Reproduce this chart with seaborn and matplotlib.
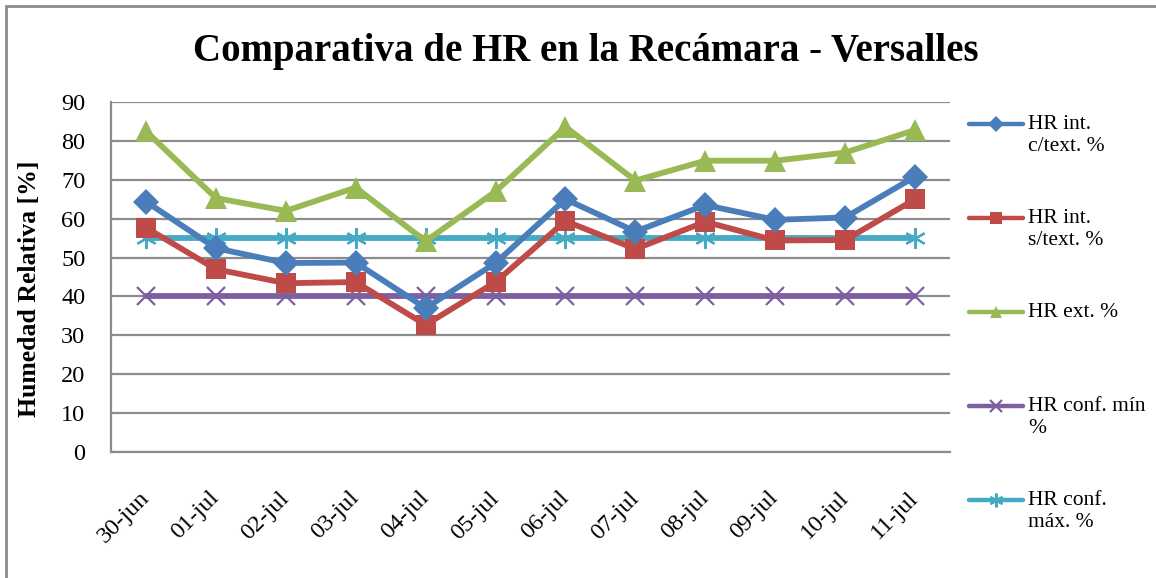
import matplotlib
matplotlib.use("Agg")
import matplotlib.pyplot as plt
import matplotlib.patches as mpatches
from matplotlib.lines import Line2D
from matplotlib.legend import Legend
from matplotlib.offsetbox import HPacker
import numpy as np
import pandas as pd
import seaborn as sns

fechas = ["30-jun", "01-jul", "02-jul", "03-jul", "04-jul", "05-jul",
          "06-jul", "07-jul", "08-jul", "09-jul", "10-jul", "11-jul"]
hr_int_con = [64.4, 52.4, 48.6, 48.7, 37.0, 48.6, 65.0, 56.7, 63.5, 59.7, 60.3, 70.8]
hr_int_sin = [57.7, 47.0, 43.4, 43.7, 32.7, 43.7, 59.4, 52.2, 59.2, 54.4, 54.5, 65.0]
hr_ext = [82.5, 65.3, 62.0, 68.0, 54.2, 67.0, 83.6, 69.8, 74.9, 74.9, 77.0, 82.8]
hr_conf_min = [40] * 12
hr_conf_max = [55] * 12

series = ["HR int.\nc/text. %", "HR int.\ns/text. %", "HR ext. %",
          "HR conf. mín\n%", "HR conf.\nmáx. %"]
valores = [hr_int_con, hr_int_sin, hr_ext, hr_conf_min, hr_conf_max]
colores = ["#4A7EBB", "#BE4B48", "#98B954", "#7D60A0", "#46AAC5"]
marcadores = ["D", "s", "^", "x", (6, 2, 0)]
tam_marcador = [13, 14, 16, 13, 15]
tam_leyenda = [8, 9, 9, 9, 10]

df = pd.DataFrame({
    "pos": np.tile(np.arange(len(fechas)), len(series)),
    "valor": np.concatenate(valores),
    "serie": np.repeat(series, len(fechas)),
})

sns.set_theme(style="white")
plt.rcParams["font.family"] = ["Liberation Serif", "DejaVu Serif"]
for k in ("text.color", "axes.labelcolor", "xtick.color", "ytick.color"):
    plt.rcParams[k] = "black"

W, H = 1156, 578
fig = plt.figure(figsize=(W / 100, H / 100), dpi=100)
ax = fig.add_axes([111 / W, 1 - 452 / H, (950 - 111) / W, (452 - 102) / H])

# Chart-area frame
fig.patches.append(mpatches.Rectangle((6 / W, -0.05), 1.2, (H - 6) / H + 0.05,
                                      transform=fig.transFigure, fill=False,
                                      edgecolor="#8C8C8C", linewidth=2.0, zorder=0))


def estilo_marcador(i):
    mk = marcadores[i]
    if mk == "x" or isinstance(mk, tuple):
        return dict(markeredgecolor=colores[i], markeredgewidth=1.6)
    return dict(markeredgewidth=0)


# Draw in reverse so the first series sits on top
for i in reversed(range(len(series))):
    sub = df[df["serie"] == series[i]]
    sns.lineplot(data=sub, x="pos", y="valor", ax=ax, color=colores[i],
                 linewidth=4.2, marker=marcadores[i], markersize=tam_marcador[i],
                 legend=False, zorder=3 + (len(series) - i), **estilo_marcador(i))

ax.set_xlim(-0.5, len(fechas) - 0.5)
ax.set_ylim(0, 90)
ax.set_yticks(range(0, 91, 10))
ax.set_xticks(range(len(fechas)))
ax.set_xticklabels(fechas, rotation=45, ha="right", va="center", rotation_mode="anchor")
ax.tick_params(axis="x", length=0, pad=31, labelsize=17.5)
ax.tick_params(axis="y", length=0, pad=18.5, labelsize=17.5)
ax.yaxis.grid(True, color="#8C8C8C", linewidth=1.6)
ax.xaxis.grid(False)
ax.set_axisbelow(True)
for s in ["right", "top"]:
    ax.spines[s].set_visible(False)
for s in ["left", "bottom"]:
    ax.spines[s].set_color("#8C8C8C")
    ax.spines[s].set_linewidth(1.6)
ax.set_xlabel("")
ax.set_ylabel("Humedad Relativa [%]", fontsize=18.5, fontweight="bold")
ax.yaxis.set_label_coords(41 / W, 0.5, transform=fig.transFigure)

fig.text(0.507, 1 - 52 / H, "Comparativa de HR en la Recámara - Versalles",
         ha="center", va="center", fontsize=28, fontweight="bold")

# Legend: one entry per slot, handle level with the first text line
fila_y = [124, 218, 312, 406, 500]
for i in range(len(series)):
    h = Line2D([], [], color=colores[i], linewidth=3.2, marker=marcadores[i],
               markersize=tam_leyenda[i], **estilo_marcador(i))
    leg = Legend(ax, [h], [series[i]], loc="upper left",
                 bbox_to_anchor=(969 / W, 1 - (fila_y[i] - 9) / H),
                 bbox_transform=fig.transFigure, frameon=False, fontsize=15.5,
                 borderpad=0, borderaxespad=0, handlelength=2.5,
                 handleheight=1.2, handletextpad=0.25)
    pilas = [leg.get_children()[0]]
    while pilas:
        caja = pilas.pop()
        if isinstance(caja, HPacker):
            caja.align = "top"
        pilas.extend(getattr(caja, "get_children", lambda: [])())
    ax.add_artist(leg)

fig.savefig("out.png", dpi=100)
